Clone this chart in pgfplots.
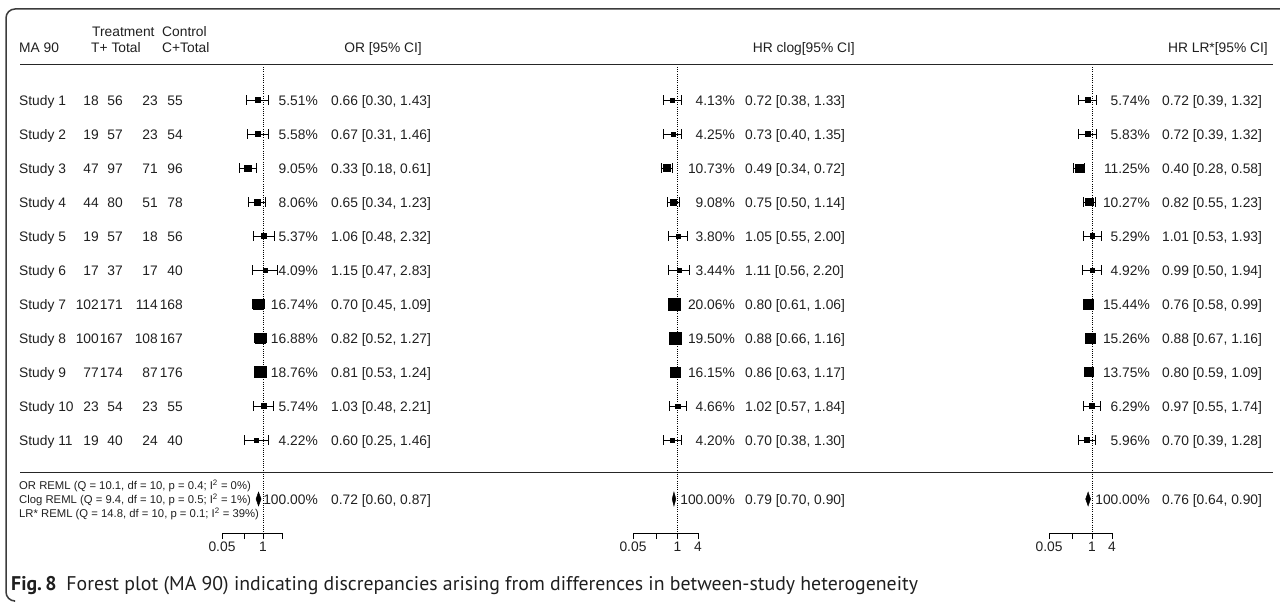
\documentclass[border=0pt]{standalone}
\usepackage{pgfplots}
\pgfplotsset{compat=1.18}
\usepackage{fontspec}
\setmainfont{Liberation Sans}
\newfontfamily\capfont{PT Sans}
\definecolor{txt}{HTML}{1F1F1F}
\definecolor{framec}{HTML}{3C3C3C}

% study / weight / estimate / lower / upper
\def\ORdata{1/5.51/0.66/0.30/1.43, 2/5.58/0.67/0.31/1.46, 3/9.05/0.33/0.18/0.61, 4/8.06/0.65/0.34/1.23, 5/5.37/1.06/0.48/2.32, 6/4.09/1.15/0.47/2.83, 7/16.74/0.70/0.45/1.09, 8/16.88/0.82/0.52/1.27, 9/18.76/0.81/0.53/1.24, 10/5.74/1.03/0.48/2.21, 11/4.22/0.60/0.25/1.46}
\def\CLdata{1/4.13/0.72/0.38/1.33, 2/4.25/0.73/0.40/1.35, 3/10.73/0.49/0.34/0.72, 4/9.08/0.75/0.50/1.14, 5/3.80/1.05/0.55/2.00, 6/3.44/1.11/0.56/2.20, 7/20.06/0.80/0.61/1.06, 8/19.50/0.88/0.66/1.16, 9/16.15/0.86/0.63/1.17, 10/4.66/1.02/0.57/1.84, 11/4.20/0.70/0.38/1.30}
\def\LRdata{1/5.74/0.72/0.39/1.32, 2/5.83/0.72/0.39/1.32, 3/11.25/0.40/0.28/0.58, 4/10.27/0.82/0.55/1.23, 5/5.29/1.01/0.53/1.93, 6/4.92/0.99/0.50/1.94, 7/15.44/0.76/0.58/0.99, 8/15.26/0.88/0.67/1.16, 9/13.75/0.80/0.59/1.09, 10/6.29/0.97/0.55/1.74, 11/5.96/0.70/0.39/1.28}

\tikzset{
  L/.style={anchor=base west, inner sep=0pt, text=txt},
  R/.style={anchor=base east, inner sep=0pt, text=txt},
}
\newcommand\bs{5}% baseline shift below row centre

\begin{document}
\begin{tikzpicture}[x=1pt, y=1pt, font=\fontsize{13.8}{16}\selectfont]
\useasboundingbox (0,0) rectangle (1280,-602);

% frame
\draw[framec, line width=1.5pt, rounded corners=9pt] (1281,-9) -- (6,-9) -- (6,-601) -- (14,-601);

% header
\node[L] at (92,-32-\bs) {Treatment};
\node[L] at (162,-32-\bs) {Control};
\node[L] at (19,-48-\bs) {MA 90};
\node[L] at (91,-48-\bs) {T+ Total};
\node[L] at (162,-48-\bs) {C+Total};
\node[R] at (422,-48-\bs) {OR [95\% CI]};
\node[R] at (855,-48-\bs) {HR clog[95\% CI]};
\node[R] at (1268,-48-\bs) {HR LR*[95\% CI]};
\draw[black!85, line width=0.9pt] (20,-64) -- (1273,-64);
\draw[black!85, line width=0.9pt] (20,-472) -- (1273,-472);

% study columns
\foreach \i/\ta/\tb/\ca/\cb in {1/18/56/23/55, 2/19/57/23/54, 3/47/97/71/96, 4/44/80/51/78, 5/19/57/18/56, 6/17/37/17/40, 7/102/171/114/168, 8/100/167/108/167, 9/77/174/87/176, 10/23/54/23/55, 11/19/40/24/40}{
  \pgfmathsetmacro\yb{-(100+34*(\i-1))-\bs}
  \node[L] at (19,\yb) {Study \i};
  \node[R] at (99,\yb) {\ta};
  \node[R] at (123,\yb) {\tb};
  \node[R] at (158,\yb) {\ca};
  \node[R] at (183,\yb) {\cb};
}

% REML lines
\begin{scope}[font=\fontsize{11.3}{12}\selectfont]
\node[L] at (19,-485-4) {OR REML (Q = 10.1, df = 10, p = 0.4; I\textsuperscript{2} = 0\%)};
\node[L] at (19,-499-4) {Clog REML (Q = 9.4, df = 10, p = 0.5; I\textsuperscript{2} = 1\%)};
\node[L] at (19,-513-4) {LR* REML (Q = 14.8, df = 10, p = 0.1; I\textsuperscript{2} = 39\%)};
\end{scope}

% panel texts
\foreach \i/\p/\m/\l/\h in \ORdata {
  \pgfmathsetmacro\yb{-(100+34*(\i-1))-\bs}
  \node[R] at (318,\yb) {\p\%};
  \node[L] at (331,\yb) {\m{} [\l, \h]};
}
\foreach \i/\p/\m/\l/\h in \CLdata {
  \pgfmathsetmacro\yb{-(100+34*(\i-1))-\bs}
  \node[R] at (735,\yb) {\p\%};
  \node[L] at (745,\yb) {\m{} [\l, \h]};
}
\foreach \i/\p/\m/\l/\h in \LRdata {
  \pgfmathsetmacro\yb{-(100+34*(\i-1))-\bs}
  \node[R] at (1150,\yb) {\p\%};
  \node[L] at (1162,\yb) {\m{} [\l, \h]};
}
\node[R] at (318,-499-\bs) {100.00\%};
\node[L] at (331,-499-\bs) {0.72 [0.60, 0.87]};
\node[R] at (735,-499-\bs) {100.00\%};
\node[L] at (745,-499-\bs) {0.79 [0.70, 0.90]};
\node[R] at (1150,-499-\bs) {100.00\%};
\node[L] at (1162,-499-\bs) {0.76 [0.64, 0.90]};

% panel 1
\begin{axis}[at={(222pt,-533pt)}, anchor=south west, scale only axis, width=60pt, height=470pt,
    xmode=log, xmin=0.05, xmax=4, ymin=-533, ymax=-63,
    axis x line*=bottom, axis y line=none,
    xtick={0.05,0.25,1,4}, xticklabels={0.05,,1,}, xminorticks=false,
    tick align=outside, major tick length=6pt, clip=false,
    axis line style={line width=0.8pt, black}, tick style={line width=0.8pt, black},
    xticklabel style={font=\fontsize{13.8}{16}\selectfont, text=txt, inner sep=2.5pt}]
\addplot[black, line width=0.7pt, dash pattern=on 1pt off 1.2pt] coordinates {(1,-67) (1,-533)};
\foreach \i/\p/\m/\l/\h in \ORdata {
  \pgfmathsetmacro\yy{-(100+34*(\i-1))}
  \pgfmathsetmacro\ms{1+0.25*\p}
  \edef\temp{\noexpand\addplot[black, line width=0.8pt, mark=|, mark size=5pt] coordinates {(\l,\yy) (\h,\yy)};
    \noexpand\addplot[only marks, mark=square*, black, mark size=\ms pt] coordinates {(\m,\yy)};}
  \temp
}
\addplot[draw=black, fill=black, line width=0.4pt] coordinates {(0.60,-499) (0.72,-492) (0.87,-499) (0.72,-506) (0.60,-499)};
\end{axis}

% panel 2
\begin{axis}[at={(633pt,-533pt)}, anchor=south west, scale only axis, width=65pt, height=470pt,
    xmode=log, xmin=0.05, xmax=4, ymin=-533, ymax=-63,
    axis x line*=bottom, axis y line=none,
    xtick={0.05,0.25,1,4}, xticklabels={0.05,,1,4}, xminorticks=false,
    tick align=outside, major tick length=6pt, clip=false,
    axis line style={line width=0.8pt, black}, tick style={line width=0.8pt, black},
    xticklabel style={font=\fontsize{13.8}{16}\selectfont, text=txt, inner sep=2.5pt}]
\addplot[black, line width=0.7pt, dash pattern=on 1pt off 1.2pt] coordinates {(1,-67) (1,-533)};
\foreach \i/\p/\m/\l/\h in \CLdata {
  \pgfmathsetmacro\yy{-(100+34*(\i-1))}
  \pgfmathsetmacro\ms{1+0.25*\p}
  \edef\temp{\noexpand\addplot[black, line width=0.8pt, mark=|, mark size=5pt] coordinates {(\l,\yy) (\h,\yy)};
    \noexpand\addplot[only marks, mark=square*, black, mark size=\ms pt] coordinates {(\m,\yy)};}
  \temp
}
\addplot[draw=black, fill=black, line width=0.4pt] coordinates {(0.70,-499) (0.79,-492) (0.90,-499) (0.79,-506) (0.70,-499)};
\end{axis}

% panel 3
\begin{axis}[at={(1049pt,-533pt)}, anchor=south west, scale only axis, width=63pt, height=470pt,
    xmode=log, xmin=0.05, xmax=4, ymin=-533, ymax=-63,
    axis x line*=bottom, axis y line=none,
    xtick={0.05,0.25,1,4}, xticklabels={0.05,,1,4}, xminorticks=false,
    tick align=outside, major tick length=6pt, clip=false,
    axis line style={line width=0.8pt, black}, tick style={line width=0.8pt, black},
    xticklabel style={font=\fontsize{13.8}{16}\selectfont, text=txt, inner sep=2.5pt}]
\addplot[black, line width=0.7pt, dash pattern=on 1pt off 1.2pt] coordinates {(1,-67) (1,-533)};
\foreach \i/\p/\m/\l/\h in \LRdata {
  \pgfmathsetmacro\yy{-(100+34*(\i-1))}
  \pgfmathsetmacro\ms{1+0.25*\p}
  \edef\temp{\noexpand\addplot[black, line width=0.8pt, mark=|, mark size=5pt] coordinates {(\l,\yy) (\h,\yy)};
    \noexpand\addplot[only marks, mark=square*, black, mark size=\ms pt] coordinates {(\m,\yy)};}
  \temp
}
\addplot[draw=black, fill=black, line width=0.4pt] coordinates {(0.64,-499) (0.76,-492) (0.90,-499) (0.76,-506) (0.64,-499)};
\end{axis}

% caption
\node[anchor=base west, inner sep=0pt, text=txt, font=\capfont\fontsize{19.8}{22}\selectfont] at (11,-590)
  {\textbf{Fig.\,8}\hspace{0.5em}Forest plot (MA 90) indicating discrepancies arising from differences in between-study heterogeneity};
\end{tikzpicture}
\end{document}
